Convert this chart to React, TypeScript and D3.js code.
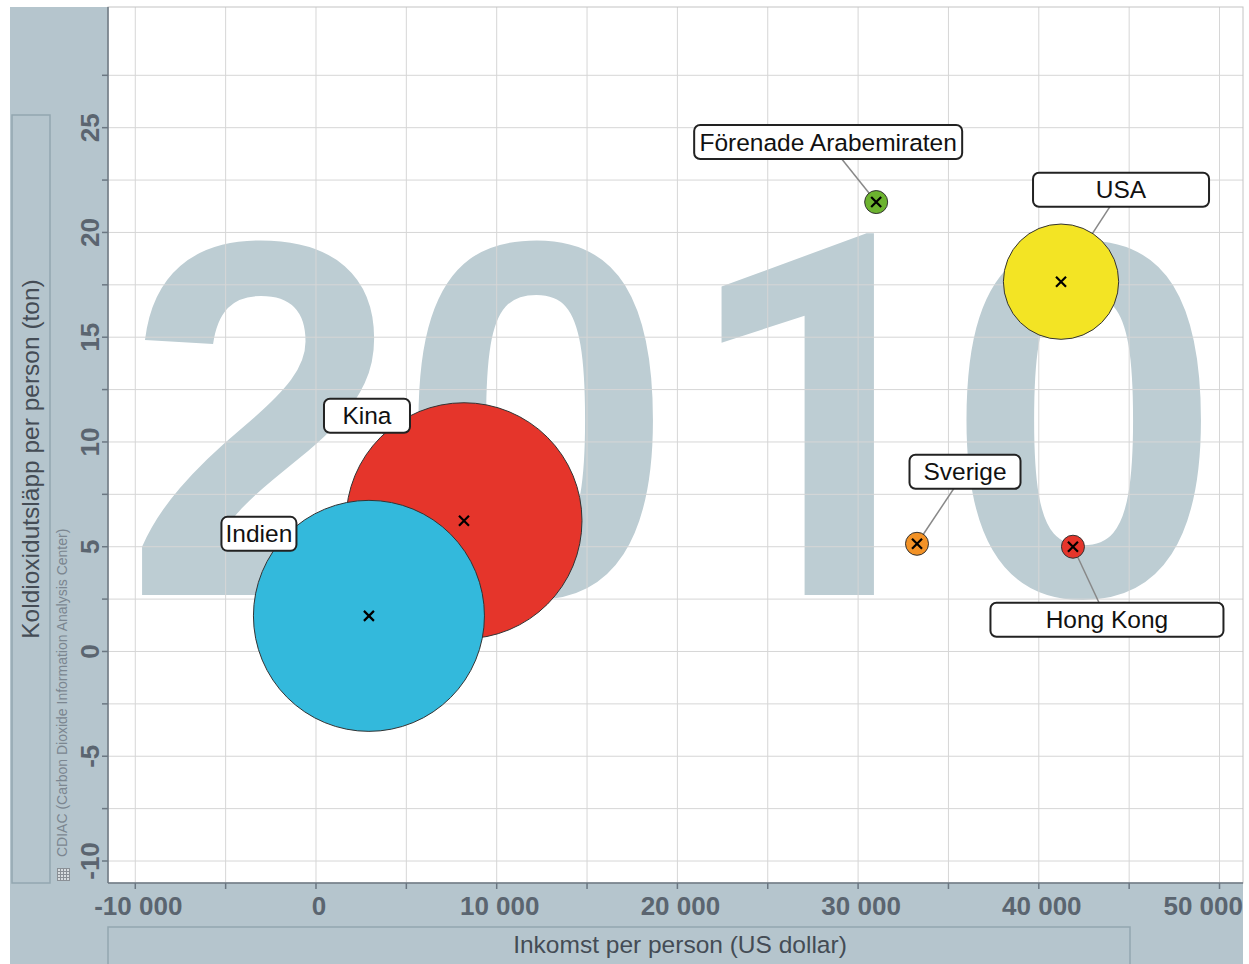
import * as d3 from 'd3'

// income per person (US dollar), CO2 per person (ton), bubble size (population, millions)
const countries = ["Kina", "Indien", "USA", "Förenade Arabemiraten", "Sverige", "Hong Kong"]
const income = [8190, 2930, 41230, 31000, 33260, 41890]
const co2 = [6.24, 1.7, 17.65, 21.45, 5.14, 5.0]
const population = [1341, 1285, 320, 8.3, 9.4, 7.1]
const colors = ["#e5352b", "#33b9dc", "#f3e424", "#6cb32f", "#f39226", "#e5352b"]

const xTicks = [-10000, 0, 10000, 20000, 30000, 40000, 50000]
const yTicks = [-10, -5, 0, 5, 10, 15, 20, 25]
const year = "2010"

// label boxes: offset of box centre from the bubble, box width
const labelLayout: Record<string, { dx: number; dy: number; w: number }> = {
  "Kina": { dx: -97, dy: -105, w: 86 },
  "Indien": { dx: -110, dy: -82, w: 75 },
  "USA": { dx: 60, dy: -92, w: 176 },
  "Förenade Arabemiraten": { dx: -48, dy: -60, w: 268 },
  "Sverige": { dx: 48, dy: -72, w: 111 },
  "Hong Kong": { dx: 34, dy: 73, w: 233 },
}

const W = 1249
const H = 964
const left = 108
const right = 1243
const top = 7
const bottom = 883
const panel = "#b5c5cd"
const boxStroke = "#93a6b0"
const tickColor = "#5b6570"
const font = "'Liberation Sans', Arial, sans-serif"

export default function App() {
  const x = d3.scaleLinear().domain([-11510, 51300]).range([left, right])
  const y = d3.scaleLinear().domain([-11.05, 30.76]).range([bottom, top])
  const r = d3.scaleSqrt().domain([0, 1341]).range([0, 118])

  const xGrid = d3.range(-10000, 50001, 5000)
  const yGrid = d3.range(-10, 27.6, 2.5)
  const fmt = (v: number) => d3.format(",")(v).replace(/,/g, " ").replace("−", "-")

  const pts = countries.map((c, i) => ({
    name: c,
    cx: x(income[i]),
    cy: y(co2[i]),
    rad: Math.max(11.5, r(population[i])),
    color: colors[i],
    pop: population[i],
  }))
  const bubbles = [...pts].sort((a, b) => b.pop - a.pop)

  // year digits, "1" without a foot like Helvetica
  const digitPitch = 274
  const yearX = 125

  return (
    <svg width={W} height={H} style={{ position: 'absolute', left: 0, top: 0, display: 'block' }} fontFamily={font}>
      <rect x={0} y={0} width={W} height={H} fill="#fff" />
      <rect x={10} y={top} width={right - 10} height={H - top} fill={panel} />
      <rect x={left} y={top} width={right - left} height={bottom - top} fill="#fff" />

      {/* big year in the background */}
      <g transform="translate(0,595) scale(1,1.03) translate(0,-595)">
        <text y={595} fontSize={493} fontWeight="bold" fill="#bdcdd3">
          {year.split("").map((ch, i) => (
            <tspan key={i} x={yearX + i * digitPitch + (ch === "1" ? 8 : 0)}
              fontFamily={ch === "1" ? "Roboto, 'Noto Sans', sans-serif" : font}>{ch}</tspan>
          ))}
        </text>
      </g>

      {/* grid */}
      {xGrid.map(v => (
        <line key={'gx' + v} x1={x(v)} x2={x(v)} y1={top} y2={bottom} stroke="#d6d6d6" strokeWidth={1} />
      ))}
      {yGrid.map(v => (
        <line key={'gy' + v} x1={left} x2={right} y1={y(v)} y2={y(v)} stroke="#d6d6d6" strokeWidth={1} />
      ))}
      <rect x={left} y={top} width={right - left} height={bottom - top} fill="none" stroke="#c4c4c4" strokeWidth={1} />

      {/* axes */}
      <line x1={left} x2={left} y1={top} y2={bottom} stroke="#6b7782" strokeWidth={1.5} />
      <line x1={left} x2={right} y1={bottom} y2={bottom} stroke="#6b7782" strokeWidth={1.5} />
      {yGrid.map(v => (
        <line key={'ty' + v} x1={left - 6} x2={left} y1={y(v)} y2={y(v)} stroke="#6b7782" strokeWidth={1.5} />
      ))}
      {xGrid.map(v => (
        <line key={'tx' + v} x1={x(v)} x2={x(v)} y1={bottom} y2={bottom + 6} stroke="#6b7782" strokeWidth={1.5} />
      ))}
      {xTicks.map(v => {
        const last = x(v) + 45 > right
        return (
          <text key={'lx' + v} x={last ? right : x(v) + 3} y={915} textAnchor={last ? "end" : "middle"}
            fontSize={26} fontWeight="bold" fill={tickColor}>
            {fmt(v)}
          </text>
        )
      })}
      {yTicks.map(v => (
        <text key={'ly' + v} transform={`translate(99,${y(v)}) rotate(-90)`} textAnchor="middle" fontSize={26} fontWeight="bold" fill={tickColor}>
          {String(v)}
        </text>
      ))}

      {/* axis titles */}
      <rect x={12} y={115} width={38} height={bottom - 115} fill="none" stroke={boxStroke} strokeWidth={1.5} />
      <text transform="translate(39,459) rotate(-90)" textAnchor="middle" fontSize={24.5} fill="#444c55">
        Koldioxidutsläpp per person (ton)
      </text>
      <rect x={left} y={927} width={1130 - left} height={50} fill="none" stroke={boxStroke} strokeWidth={1.5} />
      <text x={680} y={953} textAnchor="middle" fontSize={24.5} fill="#444c55">Inkomst per person (US dollar)</text>

      {/* source */}
      <text transform="translate(67,857) rotate(-90)" fontSize={14} fill="#7b8690">
        CDIAC (Carbon Dioxide Information Analysis Center)
      </text>
      <g stroke="#8a9096" strokeWidth={1} fill="#d8dde0">
        <rect x={57.5} y={868.5} width={12} height={12} />
        {[1, 2, 3].map(k => (
          <g key={k}>
            <line x1={57.5 + k * 3} x2={57.5 + k * 3} y1={868.5} y2={880.5} />
            <line x1={57.5} x2={69.5} y1={868.5 + k * 3} y2={868.5 + k * 3} />
          </g>
        ))}
      </g>

      {/* leader lines */}
      {pts.map(p => {
        const l = labelLayout[p.name]
        return <line key={'ll' + p.name} x1={p.cx} y1={p.cy} x2={p.cx + l.dx} y2={p.cy + l.dy} stroke="#888" strokeWidth={1.5} />
      })}

      {/* bubbles */}
      {bubbles.map(p => (
        <g key={'b' + p.name}>
          <circle cx={p.cx} cy={p.cy} r={p.rad} fill={p.color} stroke="#333" strokeWidth={1} />
          <path d={`M${p.cx - 5},${p.cy - 5}L${p.cx + 5},${p.cy + 5}M${p.cx - 5},${p.cy + 5}L${p.cx + 5},${p.cy - 5}`} stroke="#000" strokeWidth={2.2} />
        </g>
      ))}

      {/* labels */}
      {pts.map(p => {
        const l = labelLayout[p.name]
        const bx = p.cx + l.dx
        const by = p.cy + l.dy
        return (
          <g key={'lab' + p.name}>
            <rect x={bx - l.w / 2} y={by - 17} width={l.w} height={34} rx={6} fill="#fff" stroke="#222" strokeWidth={2} />
            <text x={bx} y={by + 8.5} textAnchor="middle" fontSize={24.5} fill="#111">{p.name}</text>
          </g>
        )
      })}
    </svg>
  )
}
